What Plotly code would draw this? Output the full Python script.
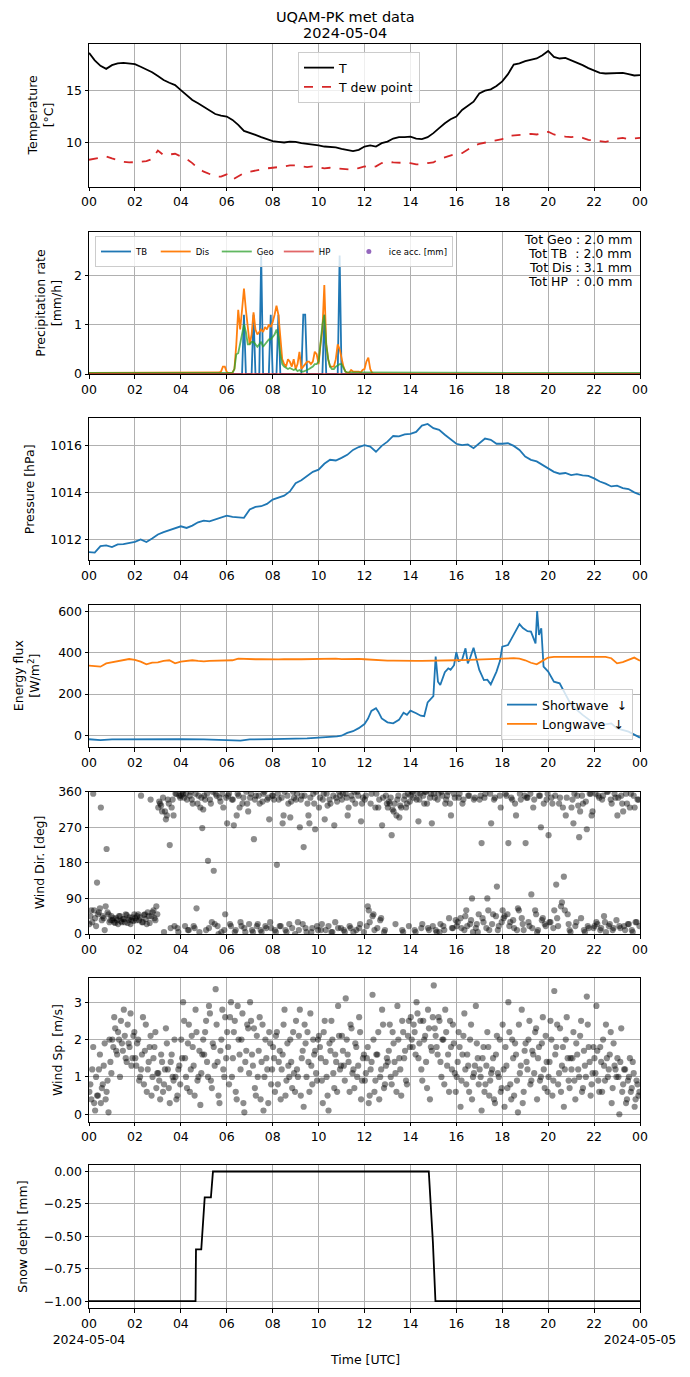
import numpy as np
import pandas as pd
import plotly.graph_objects as go

DAY = pd.Timestamp('2024-05-04')
# the page puts the figure 8 px in from the top-left corner, so the figure is
# 8 px smaller and every position below is given in page pixels minus that offset
OFF = 8
W, H = 690 - OFF, 1377 - OFF

# ---- data (15-min samples, 00:00 -> 24:00) ----
temp_c = [
    18.62, 17.9, 17.37, 17.08, 17.44, 17.6, 17.66, 17.63,
    17.53, 17.28, 17.05, 16.76, 16.38, 16.0, 15.74, 15.51,
    15.03, 14.55, 14.07, 13.75, 13.43, 13.04, 12.72, 12.56,
    12.47, 12.15, 11.67, 11.09, 10.93, 10.71, 10.48, 10.29,
    10.1, 10.03, 9.97, 10.06, 10.03, 9.9, 9.84, 9.78,
    9.68, 9.58, 9.55, 9.49, 9.36, 9.23, 9.13, 9.26,
    9.58, 9.68, 9.58, 9.9, 10.06, 10.35, 10.48, 10.48,
    10.54, 10.35, 10.29, 10.48, 10.87, 11.35, 11.83, 12.21,
    12.47, 13.11, 13.49, 13.91, 14.71, 14.97, 15.1, 15.42,
    15.87, 16.57, 17.5, 17.6, 17.82, 17.92, 18.08, 18.4,
    18.81, 18.24, 18.08, 18.14, 17.92, 17.66, 17.44, 17.15,
    16.89, 16.7, 16.63, 16.63, 16.63, 16.7, 16.57, 16.44,
    16.47]
dewpoint_c = [
    8.3, 8.43, 8.49, 8.62, 8.43, 8.24, 8.11, 8.04,
    8.11, 8.11, 8.17, 8.37, 9.2, 8.75, 8.81, 8.88,
    8.62, 8.37, 7.98, 7.47, 7.15, 6.96, 6.7, 6.67,
    6.89, 6.38, 6.7, 7.02, 7.15, 7.28, 7.4, 7.47,
    7.53, 7.56, 7.66, 7.76, 7.76, 7.66, 7.6, 7.66,
    7.56, 7.47, 7.53, 7.47, 7.4, 7.34, 7.34, 7.5,
    7.66, 7.53, 7.66, 7.98, 8.11, 8.04, 8.04, 7.98,
    7.98, 7.85, 7.85, 7.98, 8.04, 8.37, 8.56, 8.75,
    8.88, 8.94, 9.26, 9.65, 9.84, 9.97, 10.03, 10.16,
    10.29, 10.61, 10.67, 10.71, 10.74, 10.8, 10.74, 10.87,
    11.0, 10.74, 10.61, 10.54, 10.48, 10.54, 10.42, 10.22,
    10.16, 10.1, 10.03, 10.16, 10.35, 10.42, 10.29, 10.35,
    10.42]
pressure_hpa = [
    1011.46, 1011.44, 1011.72, 1011.75, 1011.68, 1011.79, 1011.8, 1011.86,
    1011.9, 1012.0, 1011.89, 1012.04, 1012.21, 1012.31, 1012.39, 1012.49,
    1012.56, 1012.49, 1012.59, 1012.73, 1012.8, 1012.77, 1012.85, 1012.96,
    1013.01, 1012.96, 1012.95, 1012.92, 1013.27, 1013.38, 1013.41, 1013.51,
    1013.69, 1013.76, 1013.86, 1014.04, 1014.39, 1014.51, 1014.7, 1014.87,
    1014.96, 1015.21, 1015.38, 1015.35, 1015.46, 1015.59, 1015.8, 1015.92,
    1016.0, 1015.94, 1015.72, 1015.97, 1016.15, 1016.39, 1016.37, 1016.46,
    1016.48, 1016.56, 1016.83, 1016.9, 1016.72, 1016.65, 1016.44, 1016.23,
    1016.06, 1016.0, 1016.03, 1015.87, 1016.06, 1016.28, 1016.23, 1016.06,
    1016.06, 1016.08, 1015.97, 1015.8, 1015.52, 1015.38, 1015.31, 1015.17,
    1015.03, 1014.87, 1014.79, 1014.82, 1014.73, 1014.77, 1014.72, 1014.7,
    1014.59, 1014.46, 1014.37, 1014.25, 1014.28, 1014.18, 1014.14, 1014.0,
    1013.9]
longwave_wm2 = [
    338, 335, 333, 349, 354, 361, 367, 370,
    366, 357, 344, 353, 354, 361, 364, 349,
    357, 362, 364, 361, 359, 361, 362, 364,
    362, 364, 372, 370, 370, 369, 369, 368,
    367, 368, 369, 371, 370, 369, 370, 371,
    370, 372, 374, 372, 370, 371, 370, 371,
    369, 367, 364, 363, 362, 362, 361, 361,
    361, 361, 361, 361, 361, 362, 363, 364,
    364, 365, 366, 368, 369, 370, 371, 372,
    372, 374, 374, 372, 364, 352, 344, 361,
    377, 380, 380, 380, 380, 380, 379, 379,
    378, 379, 380, 374, 349, 355, 366, 377,
    362]

# shortwave: irregular samples (hour of day, W/m2)
sw_hours = [0, 0.5, 1, 2, 3, 4, 5, 6, 6.3, 6.6, 7, 8, 9, 9.5, 10, 10.5, 10.8, 11,
            11.25, 11.5, 11.75, 12, 12.15, 12.3, 12.5, 12.6, 12.75, 13, 13.25, 13.5,
            13.7, 13.85, 14, 14.25, 14.45, 14.6, 14.75, 15, 15.1, 15.2, 15.3, 15.5,
            15.65, 15.75, 15.9, 16.0, 16.1, 16.25, 16.4, 16.5, 16.6, 16.75, 16.85,
            17, 17.2, 17.35, 17.5, 17.75, 17.9, 18, 18.25, 18.5, 18.75, 18.9, 19.1,
            19.25, 19.35, 19.45, 19.52, 19.6, 19.7, 19.8, 20, 20.25, 20.5, 20.75, 21,
            21.5, 22, 22.5, 22.75, 23, 23.5, 24]
shortwave_wm2 = [-19, -23, -20, -19, -21, -19, -20, -21, -24, -26, -20, -18, -17, -15,
                 -11, -9, -5, -2, 12, 20, 35, 55, 80, 118, 131, 115, 82, 63, 58, 75,
                 110, 100, 120, 107, 95, 93, 160, 190, 382, 260, 244, 306, 325, 318,
                 340, 403, 360, 366, 422, 349, 375, 425, 380, 317, 268, 270, 247, 309,
                 360, 430, 438, 487, 539, 520, 505, 503, 475, 446, 603, 487, 519, 333,
                 309, 260, 252, 196, 147, 99, 58, 53, 58, 34, 18, -11]

# precipitation rates, 5-min samples 05:30 -> 12:30 (zero outside)
tb_mmh = [0] * 15 + [1.2] + [0] * 4 + [1.2] + [0] * 3 + [2.4] + [0] * 4 + [1.2] + [0] * 3 + \
    [1.2] + [0] * 12 + [1.2, 1.2] + [0] * 9 + [1.2] + [0] * 7 + [2.4] + [0] * 19
dis_mmh = [0.02, 0.02, 0.03, 0.05, 0.15, 0.15, 0.04, 0.02, 0.02, 0.03,
           0.1, 0.6, 1.3, 0.9, 1.3, 1.73, 1.3, 0.95, 0.6, 0.8,
           1.25, 0.9, 0.8, 0.85, 0.9, 0.85, 0.95, 0.9, 1.0, 0.95,
           1.05, 1.2, 1.38, 1.2, 0.8, 0.3, 0.2, 0.15, 0.3, 0.25,
           0.15, 0.3, 0.1, 0.2, 0.45, 0.1, 0.15, 0.2, 0.25, 0.25,
           0.2, 0.25, 0.45, 0.4, 0.2, 0.6, 0.9, 1.8, 0.6, 0.3,
           0.15, 0.15, 0.15, 0.3, 0.6, 0.5, 0.3, 0.15, 0.05, 0.02,
           0.03, 0.08, 0.05, 0.05, 0.05, 0.05, 0.03, 0.08, 0.1, 0.25,
           0.33, 0.1, 0.02, 0.0, 0.0]
geo_mmh = [0.02, 0.02, 0.02, 0.02, 0.02, 0.02, 0.03, 0.02, 0.02, 0.02,
           0.1, 0.4, 0.42, 0.6, 0.8, 1.0, 0.85, 0.6, 0.6, 0.65,
           0.65, 0.6, 0.55, 0.6, 0.65, 0.55, 0.6, 0.65, 0.7, 0.7,
           0.75, 0.8, 0.9, 0.75, 0.4, 0.2, 0.15, 0.12, 0.1, 0.12,
           0.1, 0.08, 0.1, 0.06, 0.08, 0.05, 0.05, 0.06, 0.08, 0.1,
           0.12, 0.15, 0.2, 0.2, 0.25, 0.6, 1.0, 1.2, 0.6, 0.3,
           0.15, 0.1, 0.1, 0.15, 0.18, 0.2, 0.2, 0.12, 0.05, 0.03,
           0.03, 0.03, 0.03, 0.03, 0.03, 0.03, 0.03, 0.03, 0.03, 0.03,
           0.02, 0.02, 0.02, 0.02, 0.02]
tot_lines = ['Tot Geo : 2.0 mm', 'Tot TB\u00a0\u00a0: 2.0 mm',
             'Tot Dis : 3.1 mm', 'Tot HP\u00a0\u00a0: 0.0 mm']

# wind, two interleaved 5-min sample sets, one row per hour
wind_dir_deg = [
    [25, 60, 355, 40, 130, 55, 320, 45, 10, 215, 50, 35],
    [35, 30, 40, 25, 45, 30, 38, 50, 28, 42, 35, 33],
    [40, 45, 35, 350, 30, 50, 25, 45, 340, 55, 40, 70],
    [320, 330, 310, 5, 290, 340, 225, 320, 300, 355, 15, 350],
    [350, 355, 20, 340, 10, 360, 330, 15, 65, 350, 320, 268],
    [350, 10, 185, 340, 30, 160, 355, 20, 345, 5, 320, 50],
    [280, 355, 20, 340, 5, 300, 350, 30, 330, 15, 360, 310],
    [345, 10, 240, 350, 25, 330, 5, 355, 20, 340, 290, 15],
    [350, 10, 175, 340, 20, 280, 360, 5, 330, 295, 15, 345],
    [340, 30, 270, 350, 220, 15, 330, 280, 5, 355, 265, 20],
    [320, 10, 340, 290, 355, 20, 330, 5, 275, 345, 15, 350],
    [340, 10, 355, 300, 20, 350, 5, 330, 360, 15, 285, 345],
    [340, 20, 60, 330, 45, 10, 355, 320, 35, 275, 5, 350],
    [320, 330, 250, 310, 25, 340, 295, 320, 5, 350, 330, 20],
    [350, 360, 10, 340, 285, 355, 25, 330, 360, 15, 345, 280],
    [355, 10, 340, 5, 360, 20, 330, 350, 40, 300, 15, 345],
    [20, 345, 40, 330, 10, 60, 350, 25, 90, 340, 15, 5],
    [340, 230, 30, 355, 90, 10, 280, 50, 345, 120, 20, 320],
    [60, 45, 350, 230, 30, 340, 15, 300, 65, 355, 40, 10],
    [230, 345, 20, 100, 320, 60, 5, 350, 270, 40, 25, 340],
    [250, 30, 330, 60, 125, 20, 345, 80, 145, 300, 50, 10],
    [320, 280, 20, 350, 245, 40, 330, 5, 265, 15, 355, 310],
    [20, 30, 350, 10, 340, 45, 5, 360, 25, 330, 15, 345],
    [300, 20, 350, 310, 10, 330, 25, 355, 5, 320, 30, 340]]
wind_dir_deg_b = [
    [45, 30, 60, 20, 50, 65, 35, 40, 70, 55, 30, 45],
    [40, 28, 35, 45, 32, 38, 30, 48, 36, 25, 42, 50],
    [35, 50, 42, 30, 48, 38, 55, 28, 45, 60, 35, 50],
    [335, 325, 345, 310, 300, 330, 15, 340, 20, 355, 5, 345],
    [360, 345, 355, 10, 350, 340, 20, 355, 330, 5, 345, 315],
    [340, 355, 15, 330, 360, 25, 350, 0, 335, 355, 10, 345],
    [350, 25, 340, 275, 10, 355, 320, 20, 345, 5, 330, 25],
    [355, 5, 340, 20, 350, 10, 335, 360, 15, 345, 30, 350],
    [340, 5, 355, 20, 345, 300, 10, 350, 25, 335, 360, 0],
    [355, 10, 340, 25, 350, 5, 300, 345, 15, 330, 360, 10],
    [345, 25, 355, 10, 325, 340, 5, 350, 30, 335, 360, 15],
    [355, 5, 345, 320, 15, 340, 360, 10, 350, 25, 330, 5],
    [350, 70, 30, 355, 50, 320, 15, 340, 40, 345, 10, 330],
    [335, 345, 315, 330, 300, 350, 325, 10, 340, 320, 355, 335],
    [360, 345, 5, 355, 340, 15, 350, 360, 330, 10, 355, 20],
    [345, 5, 355, 25, 350, 10, 340, 360, 330, 15, 355, 35],
    [30, 355, 15, 340, 45, 20, 350, 35, 5, 345, 25, 50],
    [350, 40, 345, 15, 60, 355, 25, 340, 45, 10, 350, 30],
    [40, 355, 50, 20, 345, 35, 330, 10, 60, 340, 25, 350],
    [345, 30, 355, 15, 340, 50, 10, 350, 35, 330, 20, 355],
    [30, 345, 15, 350, 40, 330, 70, 320, 60, 345, 25, 5],
    [340, 355, 30, 325, 310, 350, 10, 335, 20, 355, 300, 15],
    [355, 25, 345, 15, 350, 30, 360, 20, 340, 10, 355, 35],
    [345, 15, 330, 20, 355, 25, 320, 10, 350, 30, 340, 20]]
wind_speed_ms = [
    [0.6, 0.4, 1.8, 0.1, 0.5, 1.2, 0.3, 0.8, 1.9, 0.6, 0.05, 1.4],
    [2.0, 2.6, 1.7, 2.2, 1.0, 1.9, 2.8, 1.5, 2.4, 1.8, 1.3, 2.1],
    [1.5, 1.9, 0.9, 1.2, 2.6, 1.7, 0.6, 1.4, 2.1, 1.0, 1.8, 0.7],
    [1.1, 0.4, 1.4, 0.8, 2.3, 1.2, 0.3, 1.6, 0.9, 1.0, 0.5, 1.3],
    [2.0, 3.0, 1.5, 0.7, 2.4, 1.2, 1.8, 0.5, 2.2, 1.0, 0.25, 1.6],
    [1.6, 2.5, 1.0, 2.7, 0.7, 1.8, 3.35, 1.4, 0.3, 2.0, 1.2, 2.6],
    [2.2, 0.8, 3.0, 1.5, 2.5, 0.4, 2.0, 1.2, 2.7, 0.05, 1.7, 2.3],
    [3.0, 1.6, 2.3, 0.5, 1.0, 2.6, 1.4, 0.1, 2.0, 1.2, 2.2, 0.8],
    [1.8, 0.6, 2.2, 1.4, 0.4, 1.6, 2.8, 0.9, 1.3, 2.0, 0.7, 1.1],
    [2.5, 1.0, 2.8, 1.5, 0.2, 1.9, 2.2, 0.6, 1.3, 2.0, 1.7, 0.9],
    [2.1, 1.5, 0.3, 2.5, 1.0, 0.1, 1.7, 2.0, 0.7, 1.4, 2.9, 1.2],
    [2.1, 1.3, 3.1, 1.6, 0.6, 2.3, 1.2, 1.9, 1.0, 2.6, 0.4, 1.5],
    [0.9, 1.5, 0.3, 1.2, 3.2, 0.6, 1.6, 2.2, 1.0, 2.8, 0.7, 1.3],
    [1.4, 2.4, 0.8, 1.9, 1.1, 2.9, 1.5, 0.5, 2.2, 1.7, 0.8, 2.5],
    [2.6, 1.8, 2.2, 3.0, 1.5, 2.5, 0.9, 2.0, 1.4, 2.8, 0.4, 1.7],
    [3.45, 2.1, 1.6, 2.5, 1.0, 2.0, 2.8, 1.3, 0.6, 1.8, 2.4, 1.1],
    [1.0, 2.2, 0.2, 1.6, 2.7, 0.8, 1.3, 2.0, 0.4, 1.1, 2.9, 1.5],
    [1.2, 0.1, 1.8, 0.8, 2.2, 0.5, 1.1, 1.5, 0.3, 2.1, 1.0, 0.6],
    [2.4, 0.2, 1.3, 3.0, 0.8, 2.0, 0.5, 1.6, 0.05, 1.1, 2.8, 0.6],
    [1.9, 1.2, 2.5, 0.9, 1.6, 2.2, 0.4, 1.8, 1.0, 2.6, 0.7, 1.4],
    [1.0, 2.5, 0.5, 3.3, 1.8, 0.8, 2.3, 1.3, 0.2, 2.0, 1.5, 0.7],
    [1.2, 2.2, 0.4, 1.6, 1.0, 2.5, 0.7, 1.3, 3.15, 1.8, 0.5, 1.1],
    [1.5, 2.9, 0.9, 1.8, 0.6, 1.3, 2.4, 1.0, 1.6, 0.3, 1.9, 1.2],
    [1.5, 0.0, 2.3, 0.8, 1.2, 0.4, 1.0, 0.6, 1.4, 0.2, 0.9, 0.5]]
wind_speed_ms_b = [
    [0.8, 1.2, 0.3, 1.0, 0.5, 1.6, 0.7, 1.3, 0.4, 0.9, 2.0, 1.1],
    [1.8, 2.3, 1.6, 2.0, 2.5, 1.7, 2.1, 1.4, 1.9, 2.7, 1.5, 2.2],
    [1.3, 2.0, 1.0, 1.6, 0.8, 2.4, 1.2, 1.8, 0.5, 1.5, 2.2, 1.1],
    [0.9, 1.6, 0.6, 1.2, 1.9, 0.7, 1.4, 1.0, 2.0, 0.4, 1.2, 0.8],
    [1.5, 2.5, 1.0, 1.9, 0.6, 2.1, 1.3, 2.8, 0.9, 1.7, 1.1, 2.0],
    [2.2, 1.4, 2.9, 0.9, 1.9, 1.3, 2.4, 0.5, 1.7, 2.8, 1.0, 1.5],
    [1.8, 2.6, 1.0, 2.2, 0.6, 2.9, 1.6, 2.0, 0.3, 1.4, 2.4, 1.1],
    [2.5, 1.3, 0.7, 2.1, 1.7, 0.4, 2.4, 1.0, 1.5, 0.3, 1.9, 1.2],
    [1.5, 2.1, 0.8, 1.7, 1.2, 2.4, 0.5, 1.9, 1.0, 1.4, 2.2, 0.6],
    [1.2, 2.1, 0.5, 1.7, 2.4, 1.0, 1.4, 2.7, 0.8, 1.6, 1.1, 2.0],
    [1.8, 0.9, 2.2, 1.4, 0.5, 1.9, 2.5, 1.1, 1.6, 0.6, 2.1, 1.3],
    [1.7, 0.9, 2.0, 1.4, 2.4, 1.1, 0.7, 1.8, 1.3, 2.2, 0.9, 1.6],
    [1.1, 1.8, 0.5, 1.4, 2.0, 0.9, 1.6, 0.4, 1.2, 2.4, 0.8, 1.5],
    [1.7, 1.0, 2.2, 1.4, 0.6, 2.0, 1.2, 2.5, 1.5, 0.9, 2.1, 1.8],
    [2.0, 2.4, 1.6, 2.7, 1.9, 1.2, 2.5, 2.1, 0.7, 2.3, 1.8, 2.6],
    [2.3, 1.8, 2.6, 1.4, 2.0, 0.8, 2.2, 1.6, 2.5, 1.2, 1.9, 0.6],
    [1.4, 1.8, 0.9, 2.1, 1.2, 1.6, 0.6, 2.4, 1.0, 1.3, 1.9, 0.8],
    [1.0, 1.5, 0.6, 1.3, 1.8, 0.9, 1.2, 0.4, 1.6, 1.1, 2.0, 0.7],
    [1.2, 1.8, 0.7, 2.2, 0.4, 1.5, 1.9, 0.9, 2.4, 1.3, 0.3, 1.7],
    [1.4, 2.0, 0.8, 1.7, 1.1, 2.3, 1.5, 0.9, 1.9, 1.2, 2.1, 0.6],
    [1.4, 2.0, 0.9, 1.6, 2.4, 1.1, 0.6, 1.8, 1.2, 2.6, 0.9, 1.5],
    [1.5, 0.9, 1.9, 1.2, 2.1, 0.6, 1.7, 1.0, 2.4, 1.4, 0.8, 1.8],
    [1.1, 1.7, 0.6, 1.4, 2.0, 0.9, 1.5, 1.2, 2.2, 0.7, 1.3, 1.0],
    [1.0, 1.4, 0.6, 1.2, 0.3, 0.9, 1.5, 0.7, 1.1, 0.4, 0.8, 0.6]]

snow_hours = [0, 4.64, 4.66, 4.89, 5.04, 5.31, 5.4, 14.8, 14.98, 15.09, 24]
snow_mm = [-1, -1, -0.6, -0.6, -0.2, -0.2, 0, 0, -0.55, -1, -1]

# ---- time axes ----
t15 = pd.date_range(DAY, DAY + pd.Timedelta(hours=24), freq='15min')
t_rain = pd.date_range(DAY + pd.Timedelta(hours=5.5), periods=len(dis_mmh), freq='5min')
t_rain = [DAY] + list(t_rain) + [DAY + pd.Timedelta(hours=24)]
t_wind = pd.date_range(DAY + pd.Timedelta(minutes=1), periods=288, freq='5min')
t_wind_b = t_wind + pd.Timedelta(seconds=150)
t_sw = DAY + pd.to_timedelta(sw_hours, unit='h')
t_snow = DAY + pd.to_timedelta(snow_hours, unit='h')


def pad(v, end=0):
    return [v[0]] + list(v) + [end]


def px(x):
    return (x - OFF) / W


def py(y):
    return 1 - (y - OFF) / H


FONT = 'DejaVu Sans'
fig = go.Figure()

# temperature
fig.add_trace(go.Scatter(x=t15, y=temp_c, name='T', mode='lines',
                         line=dict(color='black', width=1.8), xaxis='x', yaxis='y'))
fig.add_trace(go.Scatter(x=t15, y=dewpoint_c, name='T dew point', mode='lines',
                         line=dict(color='#d62728', width=1.8, dash='dash'), xaxis='x', yaxis='y'))

# precipitation (names padded so the legend columns spread like the original)
nb = '\u00a0'
fig.add_trace(go.Scatter(x=t_rain, y=pad(tb_mmh), name='TB' + nb, mode='lines', legend='legend2',
                         line=dict(color='#1f77b4', width=1.8), xaxis='x2', yaxis='y2'))
fig.add_trace(go.Scatter(x=t_rain, y=pad(dis_mmh), name='Dis' + nb, mode='lines', legend='legend2',
                         line=dict(color='#ff7f0e', width=1.8), xaxis='x2', yaxis='y2'))
fig.add_trace(go.Scatter(x=t_rain, y=pad(geo_mmh, 0.02), name='Geo', mode='lines', legend='legend2',
                         line=dict(color='#2ca02c', width=1.8), opacity=0.75, xaxis='x2', yaxis='y2'))
fig.add_trace(go.Scatter(x=[t_rain[0], t_rain[-1]], y=[0, 0], name='HP' + nb * 5, mode='lines', legend='legend2',
                         line=dict(color='#d62728', width=1.8), opacity=0.7, xaxis='x2', yaxis='y2'))
fig.add_trace(go.Scatter(x=[None], y=[None], name='ice acc. [mm]', mode='markers', legend='legend2',
                         marker=dict(color='#9467bd', size=5), xaxis='x2', yaxis='y2'))

# pressure
fig.add_trace(go.Scatter(x=t15, y=pressure_hpa, mode='lines', showlegend=False,
                         line=dict(color='#1f77b4', width=1.8), xaxis='x3', yaxis='y3'))

# radiation
fig.add_trace(go.Scatter(x=t_sw, y=shortwave_wm2, name='Shortwave\u00a0\u00a0\u2193', mode='lines',
                         legend='legend3', line=dict(color='#1f77b4', width=1.8), xaxis='x4', yaxis='y4'))
fig.add_trace(go.Scatter(x=t15, y=longwave_wm2, name='Longwave\u00a0\u00a0\u2193', mode='lines',
                         legend='legend3', line=dict(color='#ff7f0e', width=1.8), xaxis='x4', yaxis='y4'))

# wind
dot = dict(color='black', opacity=0.45, size=6.2, line=dict(width=0))
for tt, d, s in [(t_wind, wind_dir_deg, wind_speed_ms), (t_wind_b, wind_dir_deg_b, wind_speed_ms_b)]:
    fig.add_trace(go.Scatter(x=tt, y=np.ravel(d), mode='markers', showlegend=False,
                             marker=dot, xaxis='x5', yaxis='y5'))
    fig.add_trace(go.Scatter(x=tt, y=np.ravel(s), mode='markers', showlegend=False,
                             marker=dot, xaxis='x6', yaxis='y6'))

# snow depth
fig.add_trace(go.Scatter(x=t_snow, y=snow_mm, mode='lines', showlegend=False,
                         line=dict(color='black', width=1.8), xaxis='x7', yaxis='y7'))

# ---- layout (positions in page pixels of the original) ----
panels = [(44.3, 186.7), (231.7, 374.0), (418.3, 560.0), (605.0, 747.3),
          (791.7, 934.0), (978.3, 1121.7), (1165.0, 1308.3)]
yranges = [[5.7, 19.45], [0, 2.88], [1011.13, 1017.14], [-58, 632],
           [0, 360], [-0.2, 3.64], [-1.055, 0.05]]
yticks = [[10, 15], [0, 1, 2], [1012, 1014, 1016], [0, 200, 400, 600],
          [0, 90, 180, 270, 360], [0, 1, 2, 3], [-1, -0.75, -0.5, -0.25, 0]]
ylabels = [('Temperature<br>[\u00b0C]', 40), ('Precipitation rate<br>[mm/h]', 49),
           ('Pressure [hPa]', 29), ('Energy flux<br>[W/m<sup>2</sup>]', 26),
           ('Wind Dir. [deg]', 39.5), ('Wind Sp. [m/s]', 57), ('Snow depth [mm]', 23)]

xticks = pd.date_range(DAY, DAY + pd.Timedelta(hours=24), freq='2h')
hour_txt = [t.strftime('%H') for t in xticks]
bottom_txt = list(hour_txt)
bottom_txt[0] = '00<br>2024-05-04'
bottom_txt[-1] = '00<br>2024-05-05'

x0, x1 = px(89), px(640)
axis_common = dict(showline=True, mirror=True, linecolor='black', linewidth=1,
                   ticks='outside', ticklen=3.5, tickcolor='black', tickwidth=1,
                   showgrid=True, gridcolor='#b0b0b0', gridwidth=0.8, zeroline=False,
                   automargin=False,
                   tickfont=dict(family=FONT, size=12.5, color='black'))

layout = dict(width=W, height=H, margin=dict(l=0, r=0, t=0, b=0, autoexpand=False),
              paper_bgcolor='white', plot_bgcolor='white',
              font=dict(family=FONT, size=12.5, color='black'))
annotations = []
for i, ((top, bot), yr, yt, (lab, lx)) in enumerate(zip(panels, yranges, yticks, ylabels)):
    n = '' if i == 0 else str(i + 1)
    layout['xaxis' + n] = dict(axis_common, domain=[x0, x1], anchor='y' + n, type='date',
                               range=[DAY, DAY + pd.Timedelta(hours=24)], tickangle=0,
                               tickvals=xticks, ticktext=bottom_txt if i == 6 else hour_txt)
    layout['yaxis' + n] = dict(axis_common, domain=[py(bot), py(top)], anchor='x' + n,
                               range=yr, tickvals=yt, tickformat='.2f' if i == 6 else None)
    annotations.append(dict(text=lab, x=px(lx), y=py((top + bot) / 2), xref='paper', yref='paper',
                            xanchor='center', yanchor='middle', textangle=-90, showarrow=False,
                            font=dict(family=FONT, size=12.5)))

annotations += [
    dict(text='UQAM-PK met data', x=px(345), y=py(16.5), xref='paper', yref='paper',
         xanchor='center', yanchor='middle', showarrow=False, font=dict(family=FONT, size=14.5)),
    dict(text='2024-05-04', x=px(345), y=py(33.3), xref='paper', yref='paper',
         xanchor='center', yanchor='middle', showarrow=False, font=dict(family=FONT, size=14.5)),
    dict(text='Time [UTC]', x=(x0 + x1) / 2, y=py(1359), xref='paper', yref='paper',
         xanchor='center', yanchor='middle', showarrow=False, font=dict(family=FONT, size=12.5)),
]
for k, line in enumerate(tot_lines):
    annotations.append(dict(text=line, x=px(634), y=py(239.5 + 14 * k), xref='paper', yref='paper',
                            xanchor='right', yanchor='middle', showarrow=False,
                            font=dict(family=FONT, size=12.5)))
layout['annotations'] = annotations

legend_box = dict(bgcolor='rgba(255,255,255,0.8)', bordercolor='#cccccc', borderwidth=1)
layout['legend'] = dict(legend_box, x=px(298), y=py(52), xanchor='left', yanchor='top',
                        font=dict(family=FONT, size=12.5), tracegroupgap=0)
layout['legend2'] = dict(legend_box, x=px(95), y=py(236), xanchor='left', yanchor='top',
                         orientation='h', font=dict(family=FONT, size=8.5), itemwidth=30)
layout['legend3'] = dict(legend_box, x=px(633), y=py(740), xanchor='right', yanchor='bottom',
                         font=dict(family=FONT, size=12.5))
fig.update_layout(layout)

fig.write_html("out.html")
